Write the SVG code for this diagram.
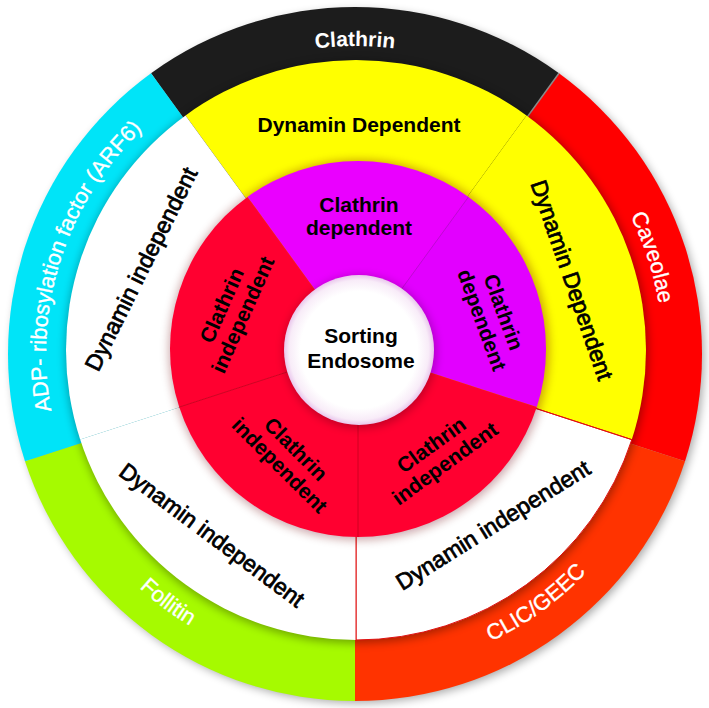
<svg xmlns="http://www.w3.org/2000/svg" width="709" height="708" viewBox="0 0 709 708">
<defs>
<filter id="blur" x="-20%" y="-20%" width="140%" height="140%"><feGaussianBlur stdDeviation="5"/></filter>
<radialGradient id="cg" cx="50%" cy="50%" r="50%">
<stop offset="0.78" stop-color="#ffffff"/>
<stop offset="0.93" stop-color="#f8ecf8"/>
<stop offset="1" stop-color="#e9c6ec"/>
</radialGradient>
<path id="pClathrin" d="M 51.68 300.52 A 308 308 0 0 1 658.32 300.52"/>
<path id="pCaveolae" d="M 312.13 48.99 A 308 308 0 0 1 499.61 625.93"/>
<path id="pADP" d="M 209.92 626.82 A 309 309 0 0 1 398.01 48.0"/>
<path id="pCLIC" d="M 134.09 582.74 A 318 318 0 0 0 640.82 214.59"/>
<path id="pFollitin" d="M 71.66 209.63 A 318 318 0 0 0 571.88 586.58"/>
</defs>
<style>
text{font-family:"Liberation Sans",Arial,sans-serif;text-anchor:middle}
.ot{fill:#ffffff;font-size:22px;stroke:#ffffff;stroke-width:0.35}
.otb{fill:#ffffff;font-size:21px;font-weight:bold}
.mt{fill:#000000;font-size:23px;stroke:#000;stroke-width:0.75}
.mtb{fill:#000000;font-size:21px;font-weight:bold}
.it{fill:#000000;font-size:21px;font-weight:bold}
.shadow{fill:#000;opacity:0.35;filter:url(#blur)}
.ishadow{fill:#6a0010;opacity:0.35;filter:url(#blur)}
</style>
<rect width="709" height="708" fill="#ffffff"/>

<!-- outer ring -->
<circle class="shadow" cx="358" cy="357" r="346"/>
<g id="outer-ring">
<g id="outer-clathrin">
<path d="M355 354 L151.04 73.27 A347 347 0 0 1 558.96 73.27 Z" fill="#1c1c1c"/>
<text class="otb"><textPath href="#pClathrin" startOffset="50%">Clathrin</textPath></text>
</g>
<g id="outer-caveolae">
<path d="M355 354 L558.96 73.27 A347 347 0 0 1 685.02 461.23 Z" fill="#ff0000"/>
<text class="ot"><textPath href="#pCaveolae" startOffset="50%">Caveolae</textPath></text>
</g>
<g id="outer-clic">
<path d="M355 354 L685.02 461.23 A347 347 0 0 1 355 701 Z" fill="#ff3300"/>
<text class="ot"><textPath href="#pCLIC" startOffset="50%">CLIC/GEEC</textPath></text>
</g>
<g id="outer-follitin">
<path d="M355 354 L355 701 A347 347 0 0 1 24.98 461.23 Z" fill="#a6fa00"/>
<text class="ot"><textPath href="#pFollitin" startOffset="50%">Follitin</textPath></text>
</g>
<g id="outer-arf6">
<path d="M355 354 L24.98 461.23 A347 347 0 0 1 151.04 73.27 Z" fill="#00e4f8"/>
<text class="ot"><textPath href="#pADP" startOffset="50%">ADP- ribosylation factor (ARF6)</textPath></text>
</g>
<line x1="355" y1="354" x2="558.96" y2="73.27" stroke="#8a8a8a" stroke-width="1.5"/>
</g>

<!-- middle ring -->
<circle class="shadow" cx="357" cy="352" r="291"/>
<g id="middle-ring">
<g id="mid-top">
<path d="M356 350 L185.54 115.39 A290 290 0 0 1 526.46 115.39 Z" fill="#ffff00"/>
<text class="mtb" x="359" y="132">Dynamin Dependent</text>
</g>
<g id="mid-right">
<path d="M356 350 L526.46 115.39 A290 290 0 0 1 631.82 439.61 Z" fill="#ffff00"/>
<text class="mt" transform="translate(572 280) rotate(71)" y="8">Dynamin Dependent</text>
</g>
<g id="mid-bottom-right">
<path d="M356 350 L631.82 439.61 A290 290 0 0 1 356 640 Z" fill="#ffffff" stroke="#e01010" stroke-width="1"/>
<text class="mt" transform="translate(493 525) rotate(-32)" y="8">Dynamin independent</text>
</g>
<g id="mid-bottom-left">
<path d="M356 350 L356 640 A290 290 0 0 1 80.18 439.61 Z" fill="#ffffff"/>
<text class="mt" transform="translate(212 535) rotate(36.7)" y="8">Dynamin independent</text>
</g>
<g id="mid-left">
<path d="M356 350 L80.18 439.61 A290 290 0 0 1 185.54 115.39 Z" fill="#ffffff"/>
<text class="mt" transform="translate(141 269) rotate(-63.5)" y="8">Dynamin independent</text>
</g>
<line x1="356" y1="350" x2="356" y2="640" stroke="#e01010" stroke-width="1"/>
<line x1="356" y1="350" x2="631.82" y2="439.61" stroke="#e01010" stroke-width="1"/>
</g>

<!-- inner ring -->
<circle class="ishadow" cx="359" cy="350" r="190"/>
<g id="inner-ring">
<g id="in-top">
<path d="M358 349 L247.49 196.91 A188 188 0 0 1 468.51 196.91 Z" fill="#ea00ff"/>
<text class="it" x="359" y="212">Clathrin</text>
<text class="it" x="359" y="235">dependent</text>
</g>
<g id="in-right">
<path d="M358 349 L468.51 196.91 A188 188 0 0 1 536.80 407.09 Z" fill="#e200ff"/>
<g transform="translate(493 316) rotate(70)">
<text class="it" y="-4">Clathrin</text>
<text class="it" y="19">dependent</text>
</g>
</g>
<g id="in-bottom-right">
<path d="M358 349 L536.80 407.09 A188 188 0 0 1 358 537 Z" fill="#ff0030"/>
<g transform="translate(438 454) rotate(-36)">
<text class="it" y="-4">Clathrin</text>
<text class="it" y="19">independent</text>
</g>
</g>
<g id="in-bottom-left">
<path d="M358 349 L358 537 A188 188 0 0 1 179.20 407.09 Z" fill="#ff0030"/>
<g transform="translate(288 457) rotate(45)">
<text class="it" y="-4">Clathrin</text>
<text class="it" y="19">independent</text>
</g>
</g>
<g id="in-left">
<path d="M358 349 L179.20 407.09 A188 188 0 0 1 247.49 196.91 Z" fill="#ff0030"/>
<g transform="translate(232 310) rotate(-66)">
<text class="it" y="-4">Clathrin</text>
<text class="it" y="19">independent</text>
</g>
</g>
<line x1="358" y1="349" x2="468.51" y2="196.91" stroke="#c000e0" stroke-width="1"/>
<line x1="358" y1="349" x2="358" y2="537" stroke="#d00020" stroke-width="1"/>
<line x1="358" y1="349" x2="179.20" y2="407.09" stroke="#d00020" stroke-width="1"/>
</g>

<!-- center -->
<circle class="shadow" cx="360" cy="352" r="76" style="opacity:0.25"/>
<g id="sorting-endosome">
<circle cx="359" cy="350" r="75" fill="url(#cg)"/>
<text class="it" x="361" y="343">Sorting</text>
<text class="it" x="361" y="368">Endosome</text>
</g>
</svg>
